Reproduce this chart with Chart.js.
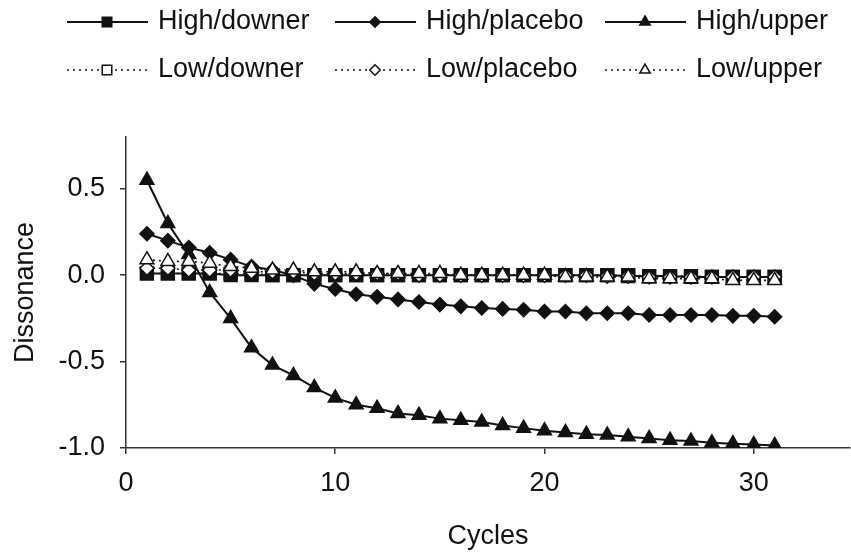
<!DOCTYPE html>
<html>
<head>
<meta charset="utf-8">
<script src="https://cdn.jsdelivr.net/npm/chart.js@4.4.1/dist/chart.umd.min.js"></script>
<style>
  html, body { margin: 0; padding: 0; background: #fff; overflow: hidden; }
  #wrap { width: 851px; height: 554px; }
</style>
</head>
<body>
<div id="wrap"><canvas id="chart" width="851" height="554"></canvas></div>
<script>
// data
const cycles = [1, 2, 3, 4, 5, 6, 7, 8, 9, 10, 11, 12, 13, 14, 15, 16, 17, 18, 19, 20, 21, 22, 23, 24, 25, 26, 27, 28, 29, 30, 31];

const highDowner = [0.01, 0.01, 0.01, 0.01, 0.0, 0.0, 0.0, 0.0, 0.0, 0.0, 0.0, 0.0, 0.0, 0.0, 0.0, 0.0, 0.0, 0.0, 0.0, 0.0,
  0.0, 0.0, 0.0, -0.005, -0.005, -0.005, -0.01, -0.01, -0.01, -0.01, -0.01];
const highPlacebo = [0.24, 0.20, 0.16, 0.13, 0.09, 0.05, 0.03, 0.0, -0.05, -0.08, -0.11, -0.125, -0.14, -0.155, -0.17, -0.18,
  -0.19, -0.195, -0.20, -0.21, -0.21, -0.22, -0.22, -0.22, -0.23, -0.23, -0.23, -0.23, -0.235, -0.235, -0.24];
const highUpper = [0.55, 0.30, 0.12, -0.10, -0.25, -0.42, -0.52, -0.58, -0.65, -0.71, -0.75, -0.77, -0.80, -0.81, -0.83, -0.84,
  -0.85, -0.87, -0.885, -0.90, -0.91, -0.92, -0.925, -0.935, -0.945, -0.955, -0.96, -0.97, -0.975, -0.98, -0.985];
const lowDowner = [0.01, 0.01, 0.01, 0.01, 0.01, 0.01, 0.0, 0.0, 0.0, 0.0, 0.0, 0.0, 0.0, 0.0, 0.0, 0.0, 0.0, 0.0, 0.0, 0.0,
  0.0, 0.0, 0.0, 0.0, -0.005, -0.005, -0.005, -0.01, -0.01, -0.01, -0.01];
const lowPlacebo = [0.04, 0.04, 0.03, 0.03, 0.03, 0.02, 0.02, 0.02, 0.01, 0.01, 0.01, 0.01, 0.01, 0.0, 0.0, 0.0, 0.0, 0.0, 0.0, 0.0,
  0.0, 0.0, -0.005, -0.005, -0.01, -0.01, -0.01, -0.01, -0.01, -0.01, -0.01];
const lowUpper = [0.09, 0.08, 0.08, 0.07, 0.05, 0.04, 0.03, 0.03, 0.02, 0.02, 0.02, 0.01, 0.01, 0.01, 0.01, 0.0, 0.0, 0.0, 0.0, 0.0,
  -0.01, -0.01, -0.01, -0.01, -0.02, -0.02, -0.02, -0.02, -0.03, -0.03, -0.03];

const xTicks = [0, 10, 20, 30];
const yTicks = [-1.0, -0.5, 0.0, 0.5];

const FONT = '"Liberation Sans", Arial, sans-serif';

function pts(vals) {
  return cycles.map((c, i) => ({ x: c, y: vals[i] }));
}

function series(label, vals, style, filled, radius, order) {
  return {
    label: label,
    data: pts(vals),
    borderColor: '#111',
    borderWidth: filled ? 2 : 1.6,
    borderDash: filled ? [] : [2, 4],
    pointStyle: style,
    pointRadius: radius,
    pointBackgroundColor: filled ? '#111' : '#fff',
    pointBorderColor: '#111',
    pointBorderWidth: 1.5,
    tension: 0,
    order: order
  };
}

// legend drawn as line + marker samples, like the original
const legendRows = [22, 70];
const legendCols = [67, 335, 605];
const legendPlugin = {
  id: 'sampleLegend',
  afterDraw(chart) {
    const ctx = chart.ctx;
    chart.data.datasets.forEach((ds, i) => {
      const x0 = legendCols[i % 3];
      const y = legendRows[Math.floor(i / 3)];
      ctx.save();
      ctx.strokeStyle = ds.borderColor;
      ctx.lineWidth = ds.borderWidth;
      ctx.setLineDash(ds.borderDash);
      ctx.beginPath();
      ctx.moveTo(x0, y);
      ctx.lineTo(x0 + 81, y);
      ctx.stroke();
      ctx.setLineDash([]);
      ctx.fillStyle = ds.pointBackgroundColor;
      ctx.strokeStyle = ds.pointBorderColor;
      ctx.lineWidth = ds.pointBorderWidth;
      Chart.helpers.drawPoint(ctx, {
        pointStyle: ds.pointStyle,
        radius: ds.pointRadius * 0.75,
        rotation: 0,
        borderWidth: ds.pointBorderWidth
      }, x0 + 40, y);
      ctx.fillStyle = '#111';
      ctx.font = '27px ' + FONT;
      ctx.textBaseline = 'middle';
      ctx.textAlign = 'left';
      ctx.fillText(ds.label, x0 + 91, y);
      ctx.restore();
    });
  }
};

const ctx = document.getElementById('chart').getContext('2d');
const chart = new Chart(ctx, {
  type: 'line',
  data: {
    datasets: [
      series('High/downer', highDowner, 'rect', true, 9, 2),
      series('High/placebo', highPlacebo, 'rectRot', true, 7, 4),
      series('High/upper', highUpper, 'triangle', true, 8, 5),
      series('Low/downer', lowDowner, 'rect', false, 9, 3),
      series('Low/placebo', lowPlacebo, 'rectRot', false, 7, 1),
      series('Low/upper', lowUpper, 'triangle', false, 8, 0)
    ]
  },
  options: {
    responsive: false,
    animation: false,
    layout: { autoPadding: false, padding: { top: 137, right: 1, left: 0, bottom: 0 } },
    plugins: {
      legend: { display: false },
      tooltip: { enabled: false }
    },
    scales: {
      x: {
        type: 'linear',
        min: 0,
        max: 34.6,
        afterBuildTicks: s => { s.ticks = xTicks.map(v => ({ value: v })); },
        afterFit: s => { s.height = 106; s.paddingLeft = 0; s.paddingRight = 0; },
        border: { display: true, color: '#333', width: 1.5 },
        grid: { display: true, drawOnChartArea: false, drawTicks: true, tickLength: 6, color: '#333', lineWidth: 1.5 },
        ticks: {
          padding: 13,
          maxRotation: 0,
          color: '#111',
          font: { family: FONT, size: 27 },
          callback: v => String(v)
        },
        title: {
          display: true,
          text: 'Cycles',
          color: '#111',
          font: { family: FONT, size: 27 },
          padding: { top: 0, bottom: 1 }
        }
      },
      y: {
        min: -1.0,
        max: 0.8,
        afterBuildTicks: s => { s.ticks = yTicks.map(v => ({ value: v })); },
        afterFit: s => { s.width = 126; s.paddingTop = 0; s.paddingBottom = 0; },
        border: { display: true, color: '#333', width: 1.5 },
        grid: { display: true, drawOnChartArea: false, drawTicks: true, tickLength: 6, color: '#333', lineWidth: 1.5 },
        ticks: {
          padding: 15,
          color: '#111',
          font: { family: FONT, size: 27 },
          callback: v => v.toFixed(1)
        },
        title: {
          display: true,
          text: 'Dissonance',
          color: '#111',
          font: { family: FONT, size: 27 },
          padding: { top: 9, bottom: 0 }
        }
      }
    }
  },
  plugins: [legendPlugin]
});
</script>
</body>
</html>
